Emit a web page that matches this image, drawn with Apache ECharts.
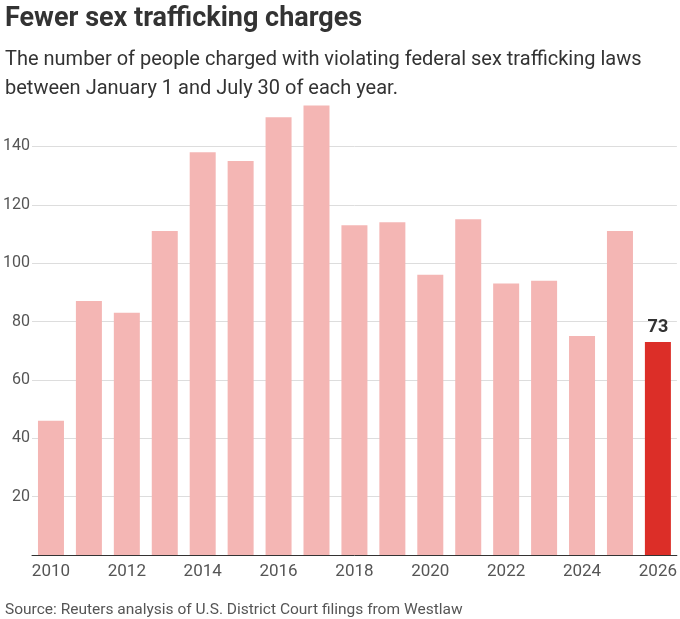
<!DOCTYPE html>
<html><head><meta charset="utf-8">
<script src="https://cdn.jsdelivr.net/npm/echarts@6/dist/echarts.min.js"></script>
<style>body{margin:0;background:#fff}#c{width:680px;height:619px}</style>
</head><body><div id="c"></div>
<script>
const years = ['2010','2011','2012','2013','2014','2015','2016','2017','2018','2019','2020','2021','2022','2023','2024','2025','2026'];
const charges = [46,87,83,111,138,135,150,154,113,114,96,115,93,94,75,111,73];
const yTicks = [20,40,60,80,100,120,140];
const chart = echarts.init(document.getElementById('c'));
chart.setOption({
  animation:false,
  textStyle:{fontFamily:'Roboto, "Noto Sans", sans-serif'},
  title:[
    {text:'Fewer sex trafficking charges',left:0,top:1,textStyle:{fontSize:27,fontWeight:'bold',color:'#333',fontFamily:'Roboto'}},
    {text:'The number of people charged with violating federal sex trafficking laws\nbetween January 1 and July 30 of each year.',left:0,top:40,textStyle:{fontSize:20,fontWeight:'normal',color:'#333',lineHeight:29,fontFamily:'Roboto'}},
    {text:'Source: Reuters analysis of U.S. District Court filings from Westlaw',left:0,top:597,textStyle:{fontSize:15.5,fontWeight:'normal',color:'#555',fontFamily:'Roboto'}}
  ],
  grid:{left:32,right:3,top:88,bottom:64},
  xAxis:{type:'category',data:years,
    axisLine:{lineStyle:{color:'#333',width:1}},axisTick:{show:false},
    axisLabel:{interval:1,color:'#555',fontSize:17,margin:8}},
  yAxis:{type:'value',min:0,max:160,interval:20,
    splitLine:{showMaxLine:false,lineStyle:{color:'#ddd'}},
    axisLabel:{color:'#555',fontSize:16,margin:2,formatter:v=>yTicks.includes(v)?String(v):''}},
  series:[{type:'bar',barWidth:26,
    data:charges.map((v,i)=>({value:v,itemStyle:{color:i===charges.length-1?'#dc2e28':'#f4b6b4'},
      label:i===charges.length-1?{show:true,position:'top',fontSize:18,fontWeight:'bold',color:'#333'}:{show:false}}))}]
});
</script></body></html>
